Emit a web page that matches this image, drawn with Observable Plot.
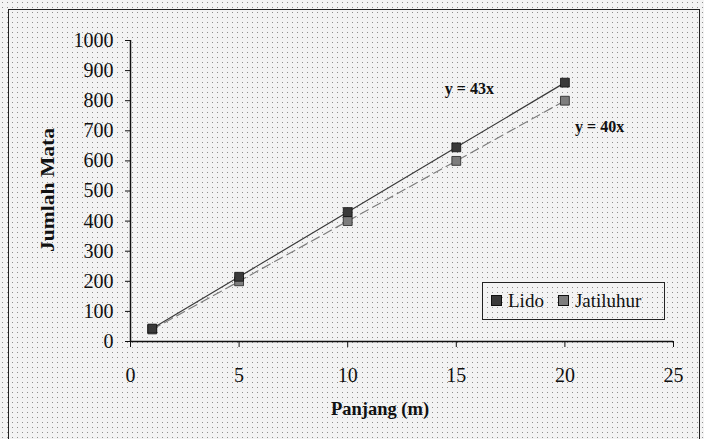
<!DOCTYPE html>
<html>
<head>
<meta charset="utf-8">
<script src="https://cdn.jsdelivr.net/npm/d3@7"></script>
<script src="https://cdn.jsdelivr.net/npm/@observablehq/plot@0.6"></script>
<style>
  html, body { margin: 0; padding: 0; background: #fff; }
  #wrap {
    position: relative; width: 704px; height: 439px; overflow: hidden;
    background-color: #f3f3f3;
    background-image: radial-gradient(circle, #8f8f8f 0.7px, transparent 1px);
    background-size: 5px 5px;
  }
  #frame {
    position: absolute; left: 8px; top: 9px; width: 692px; height: 440px;
    border: 1px solid #222; box-sizing: border-box; pointer-events: none;
  }
  #legend {
    position: absolute; left: 482px; top: 282px; width: 183px; height: 38px;
    border: 1px solid #222; box-sizing: border-box;
    font-family: "Liberation Serif", "Times New Roman", serif; font-size: 19px; color: #111;
    display: flex; align-items: center; padding-left: 8px;
  }
  .sw { display: inline-block; width: 9px; height: 9px; border: 1px solid #111; margin-right: 6px; vertical-align: 1px; }
  svg { position: absolute; left: 0; top: 0; }
</style>
</head>
<body>
<div id="wrap">
  <div id="chart"></div>
  <div id="frame"></div>
  <div id="legend"></div>
</div>
<script>
const panjang = [1, 5, 10, 15, 20];
const lido = [43, 215, 430, 645, 860];
const jatiluhur = [40, 200, 400, 600, 800];
const seriesNames = ["Lido", "Jatiluhur"];
const seriesColors = ["#3a3a3a", "#7d7d7d"];
const xTicks = [0, 5, 10, 15, 20, 25];
const yTicks = [0, 100, 200, 300, 400, 500, 600, 700, 800, 900, 1000];
const equations = [
  {label: "y = 43x", x: 15.6, y: 840},
  {label: "y = 40x", x: 21.6, y: 712}
];

const data = [];
panjang.forEach((p, i) => {
  data.push({series: "Lido", x: p, y: lido[i]});
  data.push({series: "Jatiluhur", x: p, y: jatiluhur[i]});
});
const lidoData = data.filter(d => d.series === "Lido");
const jatiData = data.filter(d => d.series === "Jatiluhur");

const serif = "Liberation Serif, Times New Roman, serif";
const chart = Plot.plot({
  width: 704,
  height: 439,
  marginLeft: 130,
  marginRight: 31,
  marginTop: 40,
  marginBottom: 98,
  style: {background: "transparent", fontFamily: serif, color: "#111"},
  x: {domain: [0, 25], label: null},
  y: {domain: [0, 1000], label: null},
  marks: [
    Plot.ruleY([0], {stroke: "#111", strokeWidth: 1.5}),
    Plot.ruleX([0], {stroke: "#111", strokeWidth: 1.5}),
    Plot.line(jatiData, {x: "x", y: "y", stroke: seriesColors[1], strokeWidth: 1.2, strokeDasharray: "9,5"}),
    Plot.line(lidoData, {x: "x", y: "y", stroke: seriesColors[0], strokeWidth: 1.2}),
    Plot.dot(jatiData, {x: "x", y: "y", symbol: "square", r: 5, fill: seriesColors[1], stroke: "#222", strokeWidth: 0.8}),
    Plot.dot(lidoData, {x: "x", y: "y", symbol: "square", r: 5, fill: seriesColors[0], stroke: "#111", strokeWidth: 0.8}),
    Plot.text(equations, {x: "x", y: "y", text: "label", fontSize: 16, fontWeight: "bold", fill: "#111", fontFamily: serif}),
    Plot.axisX({ticks: xTicks, tickFormat: d => String(d), tickSize: 6, tickPadding: 20, fontSize: 20, label: null, fontFamily: serif}),
    Plot.axisY({ticks: yTicks, tickFormat: d => String(d), tickSize: 5, tickPadding: 12, fontSize: 20, label: null, fontFamily: serif})
  ]
});
document.getElementById("chart").appendChild(chart);

// axis titles
const svg = d3.select(chart);
svg.append("text")
  .attr("x", 380).attr("y", 415)
  .attr("text-anchor", "middle")
  .attr("font-family", serif)
  .attr("font-size", 18.5).attr("font-weight", "bold").attr("fill", "#111")
  .text("Panjang (m)");
svg.append("text")
  .attr("transform", "translate(54,190) rotate(-90)")
  .attr("text-anchor", "middle")
  .attr("font-family", serif)
  .attr("font-size", 19).attr("font-weight", "bold").attr("fill", "#111")
  .attr("textLength", 124).attr("lengthAdjust", "spacingAndGlyphs")
  .text("Jumlah Mata");

// legend
const leg = document.getElementById("legend");
seriesNames.forEach((n, i) => {
  const item = document.createElement("span");
  item.style.marginRight = "14px";
  item.innerHTML = `<span class="sw" style="background:${seriesColors[i]}"></span>${n}`;
  leg.appendChild(item);
});
</script>
</body>
</html>
